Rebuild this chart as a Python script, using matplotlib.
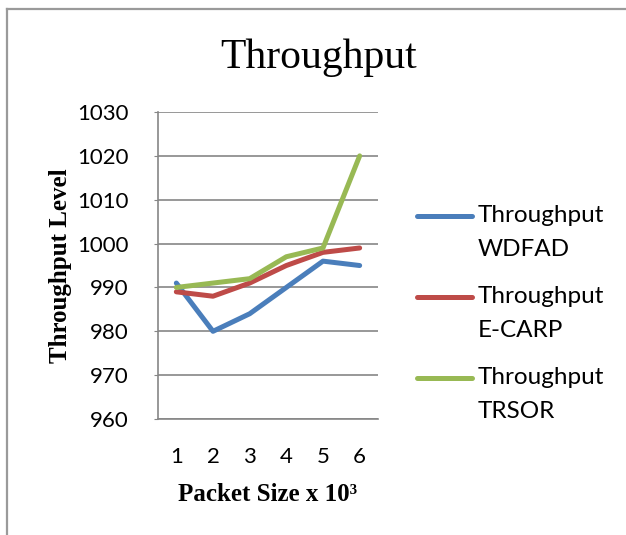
import matplotlib
matplotlib.use("Agg")
import matplotlib.pyplot as plt
from matplotlib.lines import Line2D
from matplotlib.legend_handler import HandlerLine2D

# values
packet_sizes = [1, 2, 3, 4, 5, 6]
wdfad = [991, 980, 984, 990, 996, 995]
ecarp = [989, 988, 991, 995, 998, 999]
trsor = [990, 991, 992, 997, 999, 1020]
series_names = ['Throughput\nWDFAD', 'Throughput\nE-CARP', 'Throughput\nTRSOR']
y_ticks = [960, 970, 980, 990, 1000, 1010, 1020, 1030]

colors = ['#4A7EBB', '#BE4B48', '#98B954']
grid_col = '#868686'
sans = 'Lato'
serif = 'Liberation Serif'
leg_size = 17.5


class TopLineHandler(HandlerLine2D):
    # put the legend line next to the first text line, like Excel does
    def create_artists(self, legend, orig_handle, xdescent, ydescent,
                       width, height, fontsize, trans):
        arts = super().create_artists(legend, orig_handle, xdescent, ydescent,
                                      width, height, fontsize, trans)
        for a in arts:
            a.set_ydata([y + 0.68 * fontsize for y in a.get_ydata()])
        return arts


fig = plt.figure(figsize=(6.26, 5.35), dpi=100)
ax = fig.add_axes([0.2524, 0.2168, 0.3514, 0.5738])

for vals, name, col in zip([wdfad, ecarp, trsor], series_names, colors):
    ax.plot(packet_sizes, vals, color=col, lw=3.6, label=name,
            solid_capstyle='round', solid_joinstyle='round')

ax.set_xlim(0.5, 6.5)
ax.set_ylim(960, 1030)
ax.set_yticks(y_ticks)
ax.set_xticks(packet_sizes)
ax.yaxis.grid(True, color=grid_col, lw=1.2)
ax.set_axisbelow(True)
for s in ['top', 'right']:
    ax.spines[s].set_visible(False)
for s in ['left', 'bottom']:
    ax.spines[s].set_color(grid_col)
    ax.spines[s].set_linewidth(1.2)

ax.tick_params(axis='y', length=3, color=grid_col, pad=18)
ax.tick_params(axis='x', length=0, pad=20)
for lab in ax.get_xticklabels() + ax.get_yticklabels():
    lab.set_fontfamily(sans)
    lab.set_fontsize(16)

ax.set_xlabel('Packet Size x 10³', fontfamily=serif, fontweight='bold',
              fontsize=18, labelpad=12)
ax.set_ylabel('Throughput Level', fontfamily=serif, fontweight='bold',
              fontsize=18, labelpad=4)

fig.text(0.5096, 0.873, 'Throughput', fontfamily=serif, fontsize=30,
         ha='center', va='baseline')

leg = ax.legend(loc='center left', bbox_to_anchor=(0.646, 0.414),
                bbox_transform=fig.transFigure, frameon=False,
                prop={'family': sans, 'size': leg_size}, handlelength=2.3,
                handletextpad=0.2, labelspacing=1.05, borderpad=0,
                handler_map={Line2D: TopLineHandler()})
for t in leg.get_texts():
    t.set_linespacing(1.78)

# outer frame (only top and left edges visible in the reference)
fig.add_artist(Line2D([0.011, 1.0], [0.983, 0.983], color='#9a9a9a', lw=1.6,
                      transform=fig.transFigure))
fig.add_artist(Line2D([0.011, 0.011], [0.0, 0.983], color='#9a9a9a', lw=1.6,
                      transform=fig.transFigure))

fig.savefig('out.png', dpi=100)
